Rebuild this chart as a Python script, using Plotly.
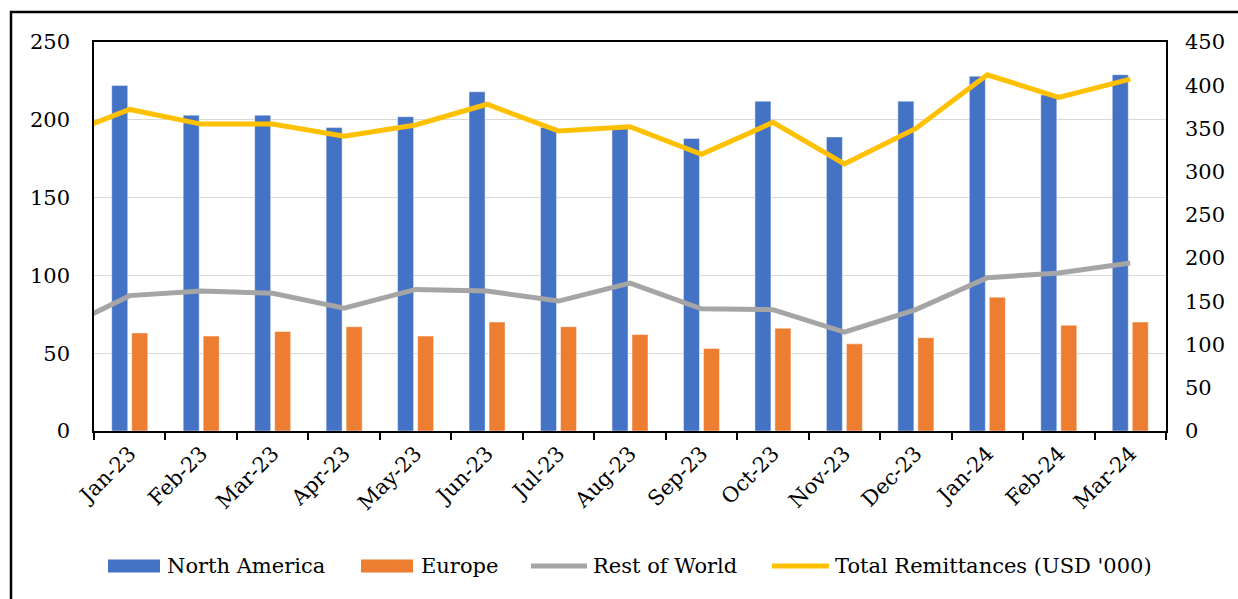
import plotly.graph_objects as go

# Monthly remittance inflows by source region
months = ["Jan-23", "Feb-23", "Mar-23", "Apr-23", "May-23", "Jun-23", "Jul-23",
          "Aug-23", "Sep-23", "Oct-23", "Nov-23", "Dec-23", "Jan-24", "Feb-24", "Mar-24"]
# the line series carry the preceding month too, so they enter from the left edge
lead_month = "Dec-22"

north_america = [222, 203, 203, 195, 202, 218, 195, 195, 188, 212, 189, 212, 228, 216, 229]
europe = [63, 61, 64, 67, 61, 70, 67, 62, 53, 66, 56, 60, 86, 68, 70]
rest_of_world = [64.5, 87, 90, 88.5, 79, 91, 90, 83.5, 95, 78.5, 78, 63.5, 78, 98.5, 101.5, 108]
total_remittances = [340, 372, 355, 355, 341, 354, 378, 347, 352, 320, 357, 309, 350, 412, 386, 407]

left_ticks = [0, 50, 100, 150, 200, 250]
right_ticks = [0, 50, 100, 150, 200, 250, 300, 350, 400, 450]

names = ["North America", "Europe", "Rest of World", "Total Remittances (USD '000)"]
colors = ["#4472C4", "#ED7D31", "#A5A5A5", "#FFC000"]

W, H = 1238, 599
ML, MR, MT, MB = 94, 72, 42, 168
FONT = "DejaVu Serif"


def px_x(px):
    return (px - ML) / (W - ML - MR)


def px_y(py):
    return (H - MB - py) / (H - MT - MB)


line_x = [lead_month] + months

fig = go.Figure()
fig.add_trace(go.Bar(x=months, y=north_america, name=names[0], marker_color=colors[0],
                     marker_line=dict(color="rgba(255,255,255,0.45)", width=1),
                     showlegend=False))
fig.add_trace(go.Bar(x=months, y=europe, name=names[1], marker_color=colors[1],
                     marker_line=dict(color="rgba(255,255,255,0.45)", width=1),
                     showlegend=False))
fig.add_trace(go.Scatter(x=line_x, y=rest_of_world, name=names[2], mode="lines",
                         line=dict(color=colors[2], width=5), showlegend=False))
fig.add_trace(go.Scatter(x=line_x, y=total_remittances, name=names[3], mode="lines",
                         line=dict(color=colors[3], width=5), yaxis="y2", showlegend=False))

# hand-built legend row beneath the axis labels
shapes = []
annotations = []
legend_y = 566
entries = [
    ("rect", 108, 160, 165),
    ("rect", 361, 413, 419),
    ("line", 531, 587, 591),
    ("line", 772, 829, 833),
]
for (kind, x0, x1, tx), name, col in zip(entries, names, colors):
    if kind == "rect":
        shapes.append(dict(type="rect", xref="paper", yref="paper",
                           x0=px_x(x0), x1=px_x(x1), y0=px_y(legend_y + 6.5), y1=px_y(legend_y - 6.5),
                           fillcolor=col, line=dict(width=0)))
    else:
        shapes.append(dict(type="line", xref="paper", yref="paper",
                           x0=px_x(x0), x1=px_x(x1), y0=px_y(legend_y), y1=px_y(legend_y),
                           line=dict(color=col, width=5)))
    annotations.append(dict(text=name, xref="paper", yref="paper", x=px_x(tx), y=px_y(legend_y),
                            xanchor="left", yanchor="middle", showarrow=False,
                            font=dict(family=FONT, size=21, color="#000000")))

# outer chart frame
shapes.append(dict(type="rect", xref="paper", yref="paper", layer="above",
                   x0=px_x(11), x1=px_x(W + 10), y0=px_y(12), y1=px_y(H + 10),
                   line=dict(color="#000000", width=2.5), fillcolor="rgba(0,0,0,0)"))

fig.update_layout(
    width=W, height=H,
    margin=dict(l=ML, r=MR, t=MT, b=MB, pad=0),
    paper_bgcolor="#ffffff", plot_bgcolor="#ffffff",
    barmode="group", bargap=0.44, bargroupgap=0.2,
    font=dict(family=FONT, size=21, color="#000000"),
    shapes=shapes, annotations=annotations,
    xaxis=dict(type="category", categoryorder="array", categoryarray=line_x,
               range=[0.5, len(line_x) - 0.5], tickson="boundaries",
               ticks="outside", ticklen=7, tickwidth=1.5, tickcolor="#000000",
               tickangle=-45, showline=True, linecolor="#000000", linewidth=2,
               mirror=True, showgrid=False, tickfont=dict(size=21)),
    yaxis=dict(range=[0, 250], tickvals=left_ticks, showgrid=True, gridcolor="#D9D9D9",
               gridwidth=1, showline=True, linecolor="#000000", linewidth=1.5,
               mirror=True, ticks="", ticklabelstandoff=18, zeroline=False,
               tickfont=dict(size=21)),
    yaxis2=dict(range=[0, 450], tickvals=right_ticks, overlaying="y", side="right",
                showgrid=False, showline=False, ticks="", ticklabelstandoff=18,
                zeroline=False, tickfont=dict(size=21)),
)

fig.write_html("out.html")
